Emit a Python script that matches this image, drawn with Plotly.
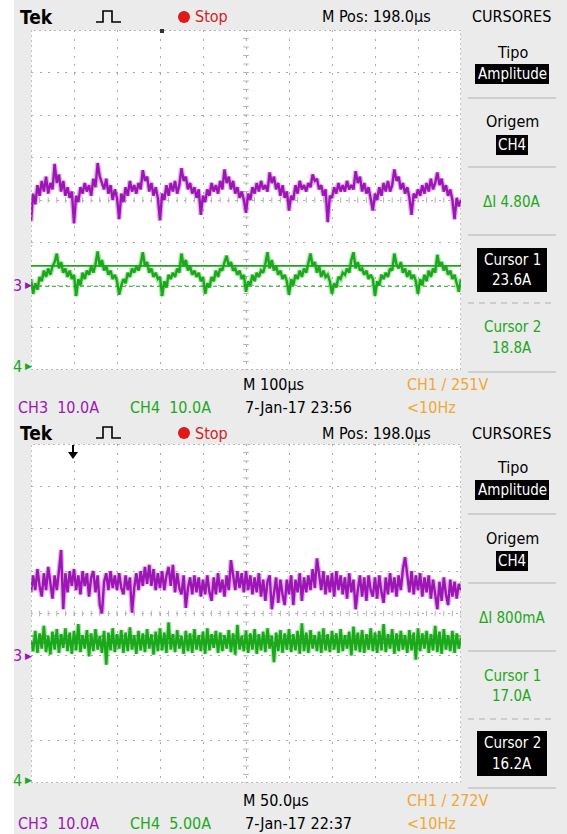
import plotly.graph_objects as go

W, H = 567, 834

# ---------------- waveform samples (amps), 20 samples per division ----------------
# upper capture: 100 us/div
top_ch3 = [
    15.0, 21.5, 19.0, 23.5, 21.0, 24.5, 22.0, 25.5, 21.5, 24.0, 22.5, 28.5, 24.0, 26.0, 22.0, 24.5, 21.0, 23.0, 20.5, 22.0,
    14.5, 21.0, 19.5, 23.0, 21.5, 24.0, 22.0, 23.5, 21.0, 25.0, 23.0, 28.7, 25.5, 24.0, 22.5, 25.0, 21.5, 23.5, 20.0, 22.5,
    20.5, 15.5, 21.5, 19.5, 23.0, 21.0, 24.5, 22.0, 23.5, 21.5, 24.0, 22.5, 27.0, 24.5, 25.5, 22.0, 24.0, 21.0, 23.0, 20.5,
    15.2, 21.5, 20.0, 23.5, 21.0, 24.0, 22.0, 24.5, 21.5, 23.5, 27.5, 24.5, 25.5, 22.5, 24.0, 21.5, 23.0, 20.5, 22.5, 16.5,
    21.0, 19.5, 22.5, 21.0, 24.0, 22.0, 23.5, 21.5, 24.5, 22.5, 27.2, 24.0, 25.5, 22.5, 24.5, 21.5, 23.0, 20.5, 22.0, 20.0,
    17.0, 21.5, 20.0, 23.0, 21.5, 24.0, 22.0, 24.5, 22.5, 23.5, 22.0, 26.5, 24.0, 25.5, 22.5, 24.0, 21.0, 23.5, 20.5, 22.0,
    17.5, 21.0, 20.0, 23.5, 21.5, 24.5, 22.5, 23.5, 22.0, 24.0, 23.0, 26.0, 24.5, 25.0, 22.5, 23.5, 21.0, 22.5, 14.8, 21.0,
    20.5, 23.0, 21.5, 24.0, 22.0, 23.5, 22.0, 24.5, 22.5, 23.5, 22.5, 26.8, 24.0, 25.5, 22.0, 24.0, 21.5, 23.0, 20.5, 17.5,
    21.5, 20.0, 23.0, 21.0, 24.0, 22.0, 24.5, 22.0, 23.5, 27.2, 24.5, 25.5, 22.5, 24.0, 21.5, 23.0, 20.5, 16.5, 21.5, 20.5,
    22.5, 21.0, 23.5, 21.5, 24.0, 22.0, 25.0, 22.5, 24.0, 26.5, 23.5, 25.0, 22.0, 23.5, 21.0, 22.5, 20.0, 15.5, 20.5, 18.5,
    20.0,
]
top_ch4 = [
    20.5, 17.0, 19.5, 18.0, 21.0, 20.0, 22.5, 21.0, 23.0, 21.5, 23.5, 24.5, 26.5, 23.0, 24.5, 22.0, 23.0, 21.0, 22.5, 20.5,
    21.5, 16.5, 20.5, 19.0, 22.0, 20.5, 22.5, 21.5, 23.5, 22.0, 24.0, 27.0, 23.5, 25.0, 22.5, 23.5, 21.5, 22.5, 20.5, 21.5,
    20.0, 16.8, 19.0, 20.5, 19.5, 22.0, 21.0, 23.0, 22.0, 23.5, 22.5, 24.0, 26.8, 23.5, 24.5, 22.0, 23.0, 21.0, 22.0, 20.5,
    21.0, 16.5, 20.0, 18.5, 21.5, 20.5, 22.0, 21.0, 23.0, 22.0, 26.5, 23.5, 25.0, 22.5, 23.5, 21.5, 22.5, 21.0, 22.0, 20.0,
    21.0, 17.0, 19.5, 18.5, 21.0, 20.0, 22.5, 21.0, 23.0, 22.5, 24.5, 26.0, 23.5, 24.5, 22.5, 23.0, 21.5, 22.5, 20.5, 21.5,
    17.5, 20.0, 19.0, 21.5, 20.0, 22.0, 21.0, 22.5, 22.0, 24.0, 26.8, 23.0, 25.0, 22.5, 23.5, 21.5, 22.5, 20.5, 21.5, 20.0,
    16.8, 20.5, 19.0, 21.5, 20.5, 22.5, 21.0, 23.0, 22.0, 24.5, 26.5, 23.5, 24.5, 22.0, 23.5, 21.0, 22.5, 21.0, 21.5, 20.0,
    17.0, 19.5, 18.5, 21.0, 20.5, 22.0, 21.5, 23.0, 22.0, 25.0, 26.8, 23.0, 24.5, 22.5, 23.0, 21.5, 22.5, 20.5, 21.5, 20.5,
    16.5, 20.0, 19.0, 21.5, 20.5, 22.0, 21.0, 23.0, 22.5, 26.5, 24.0, 23.0, 24.5, 22.0, 23.0, 21.0, 22.5, 20.5, 21.5, 20.0,
    17.0, 20.5, 19.0, 21.5, 20.0, 22.5, 21.0, 23.0, 22.0, 26.2, 23.5, 24.5, 22.5, 23.5, 21.5, 22.5, 20.5, 21.5, 19.5, 17.5,
    20.5,
]

# lower capture: 50 us/div
bot_ch3 = [
    15.0, 19.0, 15.5, 20.5, 16.5, 14.0, 19.5, 15.5, 21.0, 17.0, 13.5, 19.0, 15.5, 20.0, 25.0, 11.0, 19.5, 15.0, 20.0, 16.5,
    20.5, 15.5, 19.0, 14.5, 20.0, 16.5, 19.5, 14.0, 18.5, 20.0, 15.0, 19.0, 12.0, 10.0, 17.5, 19.5, 15.5, 20.0, 16.0, 19.0,
    15.5, 19.5, 16.0, 14.5, 19.0, 15.5, 18.5, 10.2, 16.0, 19.5, 15.5, 20.0, 16.5, 21.0, 17.0, 21.5, 16.5, 20.5, 15.5, 19.5,
    16.0, 20.0, 15.5, 19.0, 21.0, 16.5, 21.5, 15.0, 19.5, 16.0, 14.5, 19.0, 11.3, 16.0, 18.5, 14.5, 19.0, 15.0, 18.5, 14.0,
    18.0, 14.5, 19.0, 15.0, 13.0, 18.5, 14.5, 19.5, 15.0, 18.0, 14.0, 19.0, 15.5, 22.6, 19.0, 15.5, 20.0, 16.0, 19.5, 15.0,
    20.0, 15.5, 19.0, 14.5, 18.5, 15.0, 19.5, 14.0, 18.0, 13.0, 17.5, 19.0, 11.0, 15.5, 18.5, 12.5, 18.0, 14.5, 12.0, 18.0,
    14.5, 19.0, 12.0, 18.0, 15.0, 19.5, 13.0, 18.5, 15.0, 19.0, 15.5, 20.5, 16.0, 23.0, 19.0, 15.5, 20.0, 14.5, 19.0, 15.0,
    19.5, 14.0, 20.0, 15.5, 19.0, 14.5, 18.5, 13.5, 19.5, 15.0, 18.0, 11.0, 15.5, 19.0, 14.0, 18.5, 13.0, 19.0, 15.5, 14.0,
    18.5, 13.5, 19.0, 15.0, 12.5, 18.5, 14.5, 19.5, 15.0, 18.5, 14.0, 19.0, 15.5, 20.5, 23.3, 19.5, 15.0, 20.0, 14.5, 19.0,
    15.5, 19.5, 14.0, 18.5, 15.0, 19.0, 13.5, 18.0, 14.5, 11.0, 17.5, 13.0, 18.5, 14.5, 12.0, 18.0, 14.0, 17.5, 13.5, 17.0,
    15.5,
]
bot_ch4 = [
    16.5, 15.2, 17.6, 15.0, 17.3, 15.5, 18.2, 15.1, 17.0, 14.8, 17.5, 15.4, 17.8, 15.0, 17.2, 15.6, 17.9, 15.2, 17.4, 14.9,
    17.6, 15.3, 18.4, 15.1, 17.1, 15.5, 17.7, 14.6, 17.3, 15.2, 17.8, 15.4, 17.0, 15.0, 17.6, 13.6, 17.4, 15.3, 17.9, 15.1,
    17.2, 15.5, 17.7, 15.0, 17.4, 15.2, 18.0, 15.4, 17.1, 14.9, 17.6, 15.3, 17.3, 15.1, 17.8, 15.5, 17.2, 14.8, 17.5, 15.2,
    17.9, 15.3, 17.4, 15.0, 18.6, 15.4, 17.2, 15.1, 17.7, 15.5, 17.0, 14.9, 17.6, 15.2, 17.3, 15.0, 17.8, 15.4, 17.1, 15.2,
    17.5, 14.9, 17.9, 15.3, 17.2, 15.6, 17.6, 15.0, 17.4, 15.2, 17.1, 15.5, 17.7, 15.1, 17.3, 14.8, 18.3, 15.4, 17.0, 15.2,
    17.6, 15.0, 17.3, 15.4, 17.8, 14.9, 17.2, 15.3, 17.5, 15.1, 17.9, 15.5, 17.0, 13.9, 17.4, 15.2, 17.7, 15.0, 17.3, 15.4,
    17.8, 15.1, 17.2, 15.3, 17.6, 14.9, 18.5, 15.2, 17.4, 15.0, 17.7, 15.5, 17.1, 15.2, 17.5, 15.0, 17.9, 15.3, 17.2, 15.1,
    17.6, 15.4, 17.3, 15.0, 17.8, 15.2, 17.1, 15.5, 17.5, 14.7, 18.1, 15.3, 17.4, 15.1, 17.7, 15.0, 17.2, 15.4, 17.9, 15.2,
    17.4, 15.0, 17.6, 15.3, 18.4, 15.1, 17.2, 15.5, 17.8, 14.9, 17.3, 15.2, 17.6, 15.4, 17.1, 15.0, 17.7, 15.3, 17.4, 14.2,
    17.9, 15.2, 17.3, 15.5, 17.6, 15.0, 17.2, 15.3, 18.2, 15.1, 17.5, 14.9, 17.8, 15.4, 17.1, 15.2, 17.6, 15.0, 17.3, 15.5,
    16.8,
]

# ---------------- channel / timebase settings ----------------
top_tdiv, bot_tdiv = 100.0, 50.0           # us per division
top_vdiv = {"ch3": 10.0, "ch4": 10.0}      # A per division
bot_vdiv = {"ch3": 10.0, "ch4": 5.0}
top_gnd = {"ch3": -2.0, "ch4": -3.91}      # ground marker position (divisions)
bot_gnd = {"ch3": -1.0, "ch4": -3.93}
top_cursors = [23.6, 18.8]                 # Cursor 1, Cursor 2 (A, on CH4)
bot_cursors = [17.0, 16.2]

SAMPLES_PER_DIV = 20
MAG = "#9c16b4"
MAG_GLOW = "rgba(196,80,214,0.45)"
GRN = "#1ba81b"
GRN_GLOW = "rgba(70,200,70,0.45)"
ORG = "#f0a830"
FONT = "Liberation Sans Narrow, DejaVu Sans Condensed, Arial Narrow, sans-serif"


def to_div(vals, scale, gnd):
    return [v / scale + gnd for v in vals]


def times(n, tdiv):
    return [i * tdiv / SAMPLES_PER_DIV for i in range(n)]


def px(x):
    return x / W


def py(y):
    return 1 - y / H


fig = go.Figure()

# ---------------- traces ----------------
panels = [
    ("x", "y", top_tdiv, top_vdiv, top_gnd, top_ch3, top_ch4),
    ("x2", "y2", bot_tdiv, bot_vdiv, bot_gnd, bot_ch3, bot_ch4),
]
for xa, ya, tdiv, vdiv, gnd, c3, c4 in panels:
    span = tdiv * 10
    # graticule centre-line tick marks
    fig.add_trace(go.Scatter(x=[span / 2] * 41, y=[-4 + 0.2 * i for i in range(41)], mode="markers",
                             marker=dict(symbol="line-ew", size=4, line=dict(color="#b4b4b4", width=1)),
                             xaxis=xa, yaxis=ya, hoverinfo="skip", showlegend=False))
    fig.add_trace(go.Scatter(x=[span / 50 * i for i in range(51)], y=[0] * 51, mode="markers",
                             marker=dict(symbol="line-ns", size=4, line=dict(color="#b4b4b4", width=1)),
                             xaxis=xa, yaxis=ya, hoverinfo="skip", showlegend=False))
    for vals, ch, col, glow in ((c3, "ch3", MAG, MAG_GLOW), (c4, "ch4", GRN, GRN_GLOW)):
        xs = times(len(vals), tdiv)
        ys = to_div(vals, vdiv[ch], gnd[ch])
        fig.add_trace(go.Scatter(x=xs, y=ys, mode="lines", line=dict(color=glow, width=5),
                                 xaxis=xa, yaxis=ya, hoverinfo="skip", showlegend=False))
        fig.add_trace(go.Scatter(x=xs, y=ys, mode="lines", line=dict(color=col, width=2.4),
                                 xaxis=xa, yaxis=ya, hoverinfo="skip", showlegend=False))

# ---------------- axes (graticule) ----------------
gx = [31 / W, 461 / W]
common = dict(showticklabels=False, ticks="", zeroline=False, showline=False, showgrid=True,
              gridcolor="#ababab", griddash="2px,6.5px", gridwidth=1.3, fixedrange=True)
fig.update_layout(
    xaxis=dict(domain=gx, range=[0, top_tdiv * 10], dtick=top_tdiv, anchor="y", **common),
    yaxis=dict(domain=[py(370), py(30)], range=[-4, 4], dtick=1, anchor="x", **common),
    xaxis2=dict(domain=gx, range=[0, bot_tdiv * 10], dtick=bot_tdiv, anchor="y2", **common),
    yaxis2=dict(domain=[py(783), py(444)], range=[-4, 4], dtick=1, anchor="x2", **common),
)

shapes = []
ann = []


def text(x, y, s, color="black", size=16, anchor="left", bold=False, bg=None):
    ann.append(dict(x=px(x), y=py(y), xref="paper", yref="paper", text=(f"<b>{s}</b>" if bold else s),
                    showarrow=False, xanchor=anchor, yanchor="middle",
                    font=dict(family=FONT, size=size, color=color), bgcolor=bg))


def rect(x0, y0, x1, y1, fill, line=None, layer="above"):
    shapes.append(dict(type="rect", xref="paper", yref="paper", x0=px(x0), x1=px(x1), y0=py(y1), y1=py(y0),
                       fillcolor=fill, line=dict(width=0) if line is None else line, layer=layer))


def hline(x0, x1, y, color, width=1, dash="solid"):
    shapes.append(dict(type="line", xref="paper", yref="paper", x0=px(x0), x1=px(x1), y0=py(y), y1=py(y),
                       line=dict(color=color, width=width, dash=dash)))


# left white strip
rect(0, 0, 14, H, "white", layer="below")

for k, (off, xa, ya, tdiv, vdiv, gnd, curs, sel, mpos, tb, date, trig, dI) in enumerate([
    (0, "x", "y", top_tdiv, top_vdiv, top_gnd, top_cursors, 0, "M Pos: 198.0µs", "M 100µs",
     "7-Jan-17 23:56", "CH1 / 251V", "4.80A"),
    (416, "x2", "y2", bot_tdiv, bot_vdiv, bot_gnd, bot_cursors, 1, "M Pos: 198.0µs", "M 50.0µs",
     "7-Jan-17 22:37", "CH1 / 272V", "800mA"),
]):
    span = tdiv * 10
    # graticule border
    shapes.append(dict(type="rect", xref=xa, yref=ya, x0=0, x1=span, y0=-4, y1=4,
                       line=dict(color="#a0a0a0", width=1.3, dash="2px,3px")))
    # cursor lines
    for i, c in enumerate(curs):
        yv = c / vdiv["ch4"] + gnd["ch4"]
        shapes.append(dict(type="line", xref=xa, yref=ya, x0=0, x1=span, y0=yv, y1=yv,
                           line=dict(color=GRN, width=1.6 if i == sel else 1,
                                     dash="solid" if i == sel else "4px,3px")))
    # ground markers
    for ch, col, lab in (("ch3", MAG, "3"), ("ch4", GRN, "4")):
        ann.append(dict(x=px(24), y=gnd[ch], xref="paper", yref=ya, text=lab, showarrow=False,
                        xanchor="right", yanchor="middle", font=dict(family=FONT, size=16, color=col)))
        ann.append(dict(x=px(22.5), y=gnd[ch], xref="paper", yref=ya, text="▶", showarrow=False,
                        xanchor="left", yanchor="middle", font=dict(family="DejaVu Sans", size=9, color=col)))

    # header
    text(18, off + 17, "Tek", size=19, bold=True)
    shapes.append(dict(type="path", xref="paper", yref="paper",
                       path=f"M {px(96)} {py(off + 22)} L {px(103)} {py(off + 22)} L {px(103)} {py(off + 11)} "
                            f"L {px(112)} {py(off + 11)} L {px(112)} {py(off + 22)} L {px(121)} {py(off + 22)}",
                       line=dict(color="black", width=1.6)))
    shapes.append(dict(type="circle", xref="paper", yref="paper", x0=px(178), x1=px(190),
                       y0=py(off + 23), y1=py(off + 11), fillcolor="#e01818", line=dict(width=0)))
    text(193, off + 17, "Stop", color="#d42020", size=16)
    text(320, off + 17, mpos, size=16)
    text(511, off + 17, "CURSORES", size=16, anchor="center")

    # side menu
    text(512, off + 52, "Tipo", size=16, anchor="center")
    rect(475, off + 64, 549, off + 84, "black")
    text(512, off + 74, "Amplitude", color="white", size=15, anchor="center")
    hline(468, 556, off + 98, "#c4c4c4", 1.5)
    text(512, off + 122, "Origem", size=16, anchor="center")
    rect(496, off + 135, 528, off + 155, "black")
    text(512, off + 145, "CH4", color="white", size=15, anchor="center")
    hline(468, 556, off + 167, "#c4c4c4", 1.5)
    text(512, off + 202, "ΔI " + dI, color=GRN, size=15, anchor="center")
    hline(468, 556, off + 235, "#c4c4c4", 1.5)
    hline(468, 556, off + 303, "#c4c4c4", 1.5, dash="6px,5px")
    hline(468, 556, off + 372, "#c4c4c4", 1.5)
    for i, c in enumerate(curs):
        y1 = off + (260 if i == 0 else 327)
        y2 = off + (280 if i == 0 else 348)
        if i == sel:
            rect(477, y1 - 12, 547, y2 + 12, "black")
            col = "white"
        else:
            col = GRN
        text(512, y1, f"Cursor {i + 1}", color=col, size=15, anchor="center")
        text(512, y2, f"{c:.1f}A", color=col, size=15, anchor="center")

    # status lines
    text(241, off + 384, tb, size=16)
    text(405, off + 384, trig, color=ORG, size=16)
    text(16, off + 407, f"CH3  {vdiv['ch3']:.1f}A", color=MAG, size=16)
    c4lab = f"{vdiv['ch4']:.1f}A" if vdiv['ch4'] >= 10 else f"{vdiv['ch4']:.2f}A"
    text(128, off + 407, f"CH4  {c4lab}", color=GRN, size=16)
    text(243, off + 407, date, size=16)
    text(405, off + 407, "&lt;10Hz", color=ORG, size=16)

# trigger position markers
rect(160, 29, 164, 33, "#333333")
shapes.append(dict(type="line", xref="paper", yref="paper", x0=px(73), x1=px(73), y0=py(445), y1=py(454),
                   line=dict(color="black", width=2)))
shapes.append(dict(type="path", xref="paper", yref="paper",
                   path=f"M {px(68)} {py(452)} L {px(78)} {py(452)} L {px(73)} {py(459)} Z",
                   fillcolor="black", line=dict(width=0)))

fig.update_layout(width=W, height=H, autosize=False, margin=dict(l=0, r=0, t=0, b=0),
                  paper_bgcolor="#ebebeb", plot_bgcolor="white", shapes=shapes, annotations=ann,
                  showlegend=False)
fig.write_html("out.html")
